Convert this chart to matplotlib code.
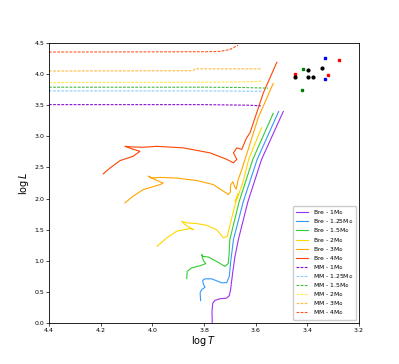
import numpy as np
import matplotlib
matplotlib.use('Agg')
import matplotlib.pyplot as plt

# trazas evolutivas (Bre): logT, logL
bre_1_T = [3.768, 3.769, 3.766, 3.757, 3.738, 3.712, 3.702, 3.697, 3.689, 3.680, 3.667, 3.630, 3.577, 3.493]
bre_1_L = [0.01, 0.19, 0.32, 0.365, 0.39, 0.40, 0.44, 0.537, 0.806, 1.07, 1.34, 1.95, 2.63, 3.40]

bre_125_T = [3.813, 3.815, 3.809, 3.796, 3.803, 3.805, 3.796, 3.770, 3.731, 3.712, 3.702, 3.697, 3.686, 3.648, 3.594, 3.511]
bre_125_L = [0.36, 0.484, 0.537, 0.574, 0.628, 0.686, 0.71, 0.71, 0.645, 0.65, 0.75, 0.97, 1.34, 1.95, 2.63, 3.40]

bre_15_T = [3.867, 3.865, 3.848, 3.815, 3.793, 3.803, 3.809, 3.803, 3.783, 3.751, 3.719, 3.706, 3.703, 3.700, 3.664, 3.611, 3.532]
bre_15_L = [0.714, 0.83, 0.886, 0.92, 0.955, 1.01, 1.10, 1.07, 1.06, 0.99, 0.91, 0.955, 1.10, 1.34, 1.95, 2.63, 3.37]

bre_2_T = [3.981, 3.944, 3.906, 3.854, 3.841, 3.873, 3.886, 3.867, 3.830, 3.790, 3.751, 3.725, 3.710, 3.699, 3.686, 3.676, 3.668, 3.680, 3.670, 3.650, 3.627, 3.577]
bre_2_L = [1.233, 1.37, 1.475, 1.52, 1.50, 1.58, 1.635, 1.61, 1.60, 1.57, 1.50, 1.37, 1.39, 1.58, 1.80, 1.95, 2.08, 1.95, 2.02, 2.25, 2.63, 3.14]

bre_3_T = [4.106, 4.074, 4.035, 3.970, 3.958, 3.990, 4.016, 4.002, 3.970, 3.906, 3.828, 3.764, 3.725, 3.706, 3.698, 3.697, 3.688, 3.682, 3.675, 3.668, 3.655, 3.635, 3.590, 3.532]
bre_3_L = [1.93, 2.04, 2.145, 2.225, 2.25, 2.305, 2.36, 2.33, 2.34, 2.33, 2.29, 2.225, 2.12, 2.065, 2.10, 2.22, 2.27, 2.20, 2.15, 2.30, 2.45, 2.71, 3.30, 3.85]

bre_4_T = [4.190, 4.164, 4.125, 4.074, 4.048, 4.080, 4.106, 4.080, 4.035, 3.983, 3.880, 3.777, 3.712, 3.686, 3.673, 3.686, 3.673, 3.654, 3.635, 3.622, 3.570, 3.518]
bre_4_L = [2.397, 2.49, 2.61, 2.68, 2.76, 2.80, 2.84, 2.83, 2.825, 2.84, 2.815, 2.735, 2.63, 2.575, 2.63, 2.735, 2.815, 2.79, 2.976, 3.056, 3.70, 4.19]

# trazas MM (discontinuas)
mm_1_T = [4.4, 3.80, 3.62, 3.58]
mm_1_L = [3.51, 3.51, 3.50, 3.49]
mm_125_T = [4.4, 3.80, 3.577]
mm_125_L = [3.73, 3.73, 3.725]
mm_15_T = [4.4, 3.80, 3.65, 3.552]
mm_15_L = [3.79, 3.79, 3.785, 3.775]
mm_2_T = [4.4, 4.35, 3.80, 3.65, 3.573]
mm_2_L = [3.86, 3.865, 3.87, 3.875, 3.885]
mm_3_T = [4.4, 3.842, 3.835, 3.58]
mm_3_L = [4.05, 4.055, 4.085, 4.085]
mm_4_T = [4.4, 3.80, 3.74, 3.70, 3.668]
mm_4_L = [4.355, 4.36, 4.365, 4.395, 4.465]

# puntos observados
obs_T = [3.333, 3.279, 3.418, 3.396, 3.342, 3.321, 3.446, 3.446, 3.396, 3.379, 3.333, 3.421]
obs_L = [4.256, 4.23, 4.085, 4.069, 4.095, 3.994, 3.999, 3.956, 3.95, 3.956, 3.918, 3.748]
obs_c = ['blue', 'red', 'green', 'black', 'black', 'red', 'red', 'black', 'black', 'black', 'blue', 'green']

masas = ['1', '1.25', '1.5', '2', '3', '4']
col_bre = ['#a030f0', '#3399ff', '#33cc33', '#ffd700', '#ffa500', '#ff4500']
col_mm = ['#8a10d0', '#88ccff', '#44bb44', '#ffe84a', '#ffbb44', '#ff5522']

bre = [(bre_1_T, bre_1_L), (bre_125_T, bre_125_L), (bre_15_T, bre_15_L),
       (bre_2_T, bre_2_L), (bre_3_T, bre_3_L), (bre_4_T, bre_4_L)]
mm = [(mm_1_T, mm_1_L), (mm_125_T, mm_125_L), (mm_15_T, mm_15_L),
      (mm_2_T, mm_2_L), (mm_3_T, mm_3_L), (mm_4_T, mm_4_L)]

fig = plt.figure(figsize=(3.99, 3.64), dpi=100)
ax = fig.add_axes([0.1228, 0.1126, 0.7769, 0.7692])

for (T, L), m, c in zip(bre, masas, col_bre):
    ax.plot(T, L, color=c, lw=0.8, label='Bre - ' + m + r'M$_{\odot}$')
for (T, L), m, c in zip(mm, masas, col_mm):
    ax.plot(T, L, color=c, lw=0.8, ls='--', dashes=(2.5, 1.2), label='MM - ' + m + r'M$_{\odot}$')

for t, l, c in zip(obs_T, obs_L, obs_c):
    mk = 'o' if c == 'black' else 's'
    ax.plot(t, l, marker=mk, color=c, ms=2, ls='none')

ax.set_xlim(4.4, 3.2)
ax.set_ylim(0, 4.5)
ax.set_xticks(np.arange(3.2, 4.41, 0.2))
ax.set_yticks(np.arange(0, 4.51, 0.5))
ax.tick_params(labelsize=4.5, length=2, width=0.5, pad=1.5)
for s in ax.spines.values():
    s.set_linewidth(0.6)
ax.set_xlabel(r'$\log T$', fontsize=7, labelpad=1)
ax.set_ylabel(r'$\log L$', fontsize=7, labelpad=2)
ax.legend(loc='lower right', fontsize=4.4, handlelength=2.0, handletextpad=0.7,
          labelspacing=0.03, borderpad=0.45, framealpha=1, edgecolor='#cccccc',
          fancybox=True)

fig.savefig('out.png', dpi=100)
